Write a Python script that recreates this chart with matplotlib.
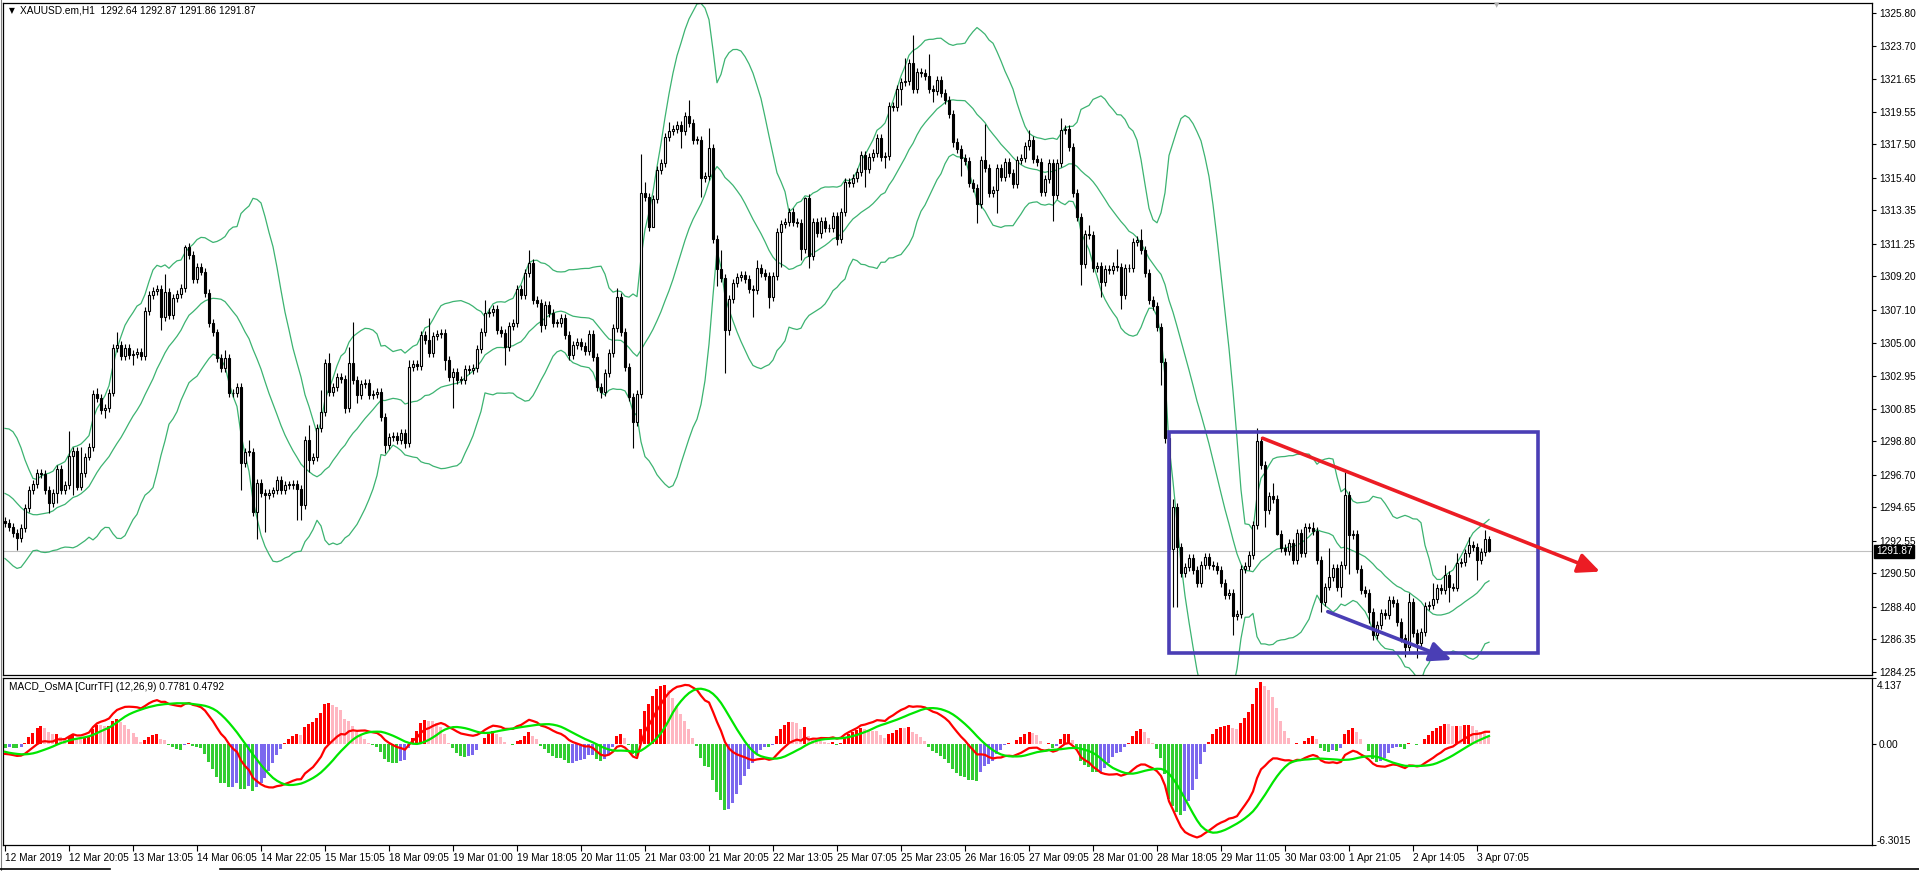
import numpy as np
import pandas as pd
import matplotlib
matplotlib.use("Agg")
import matplotlib.pyplot as plt
from matplotlib.patches import Rectangle

W, H = 1919, 871
plt.rcParams['font.family'] = ['Liberation Sans', 'DejaVu Sans']

# closes before the visible window (estimated from where bands / MACD start)
history = [1295.2, 1294.8, 1295.5, 1295.0, 1294.6, 1295.3, 1295.8, 1295.1,
           1294.7, 1295.4, 1295.0, 1294.6, 1295.2, 1295.6, 1295.1, 1294.8,
           1295.3, 1295.7, 1295.2, 1295.5, 1295.4, 1295.0, 1295.6,
           1296.0, 1297.2, 1298.3, 1298.7, 1298.9, 1298.4, 1298.1, 1297.0,
           1295.9, 1294.8, 1294.0, 1293.4, 1293.0, 1293.6, 1294.0, 1293.5,
           1293.9, 1294.3, 1293.8]

# XAUUSD H1 closes, 12 Mar 2019 -> 3 Apr 2019
closes = [
    1293.65, 1293.44, 1293.02, 1292.70, 1293.33, 1294.59, 1295.75, 1296.13, 1296.80, 1296.76,
    1295.75, 1294.95, 1295.54, 1297.05, 1295.75, 1296.06, 1297.89, 1298.20, 1295.96, 1296.84,
    1297.85, 1298.44, 1301.79, 1301.52, 1300.79, 1300.89, 1301.88, 1304.67, 1304.90, 1304.19,
    1304.67, 1304.25, 1304.31, 1304.46, 1304.19, 1307.02, 1308.03, 1308.30, 1308.38, 1306.66,
    1308.20, 1306.77, 1307.82, 1308.09, 1308.45, 1311.03, 1310.55, 1309.03, 1309.77, 1309.50,
    1308.13, 1306.24, 1305.66, 1304.04, 1303.41, 1304.04, 1301.84, 1301.84, 1302.21, 1297.43,
    1298.16, 1298.16, 1294.38, 1296.17, 1295.54, 1295.43, 1295.54, 1295.71, 1296.38, 1295.75,
    1296.06, 1296.06, 1296.13, 1295.79, 1294.79, 1298.89, 1297.63, 1297.84, 1299.62, 1300.67,
    1303.72, 1301.93, 1302.25, 1302.88, 1302.75, 1300.88, 1303.72, 1302.67, 1301.72, 1302.42,
    1302.46, 1301.72, 1301.76, 1301.91, 1300.36, 1298.57, 1299.10, 1299.14, 1298.89, 1299.31,
    1298.68, 1303.46, 1303.67, 1303.55, 1305.50, 1305.19, 1304.39, 1305.44, 1305.56, 1305.65,
    1303.93, 1302.88, 1303.19, 1302.67, 1302.67, 1303.34, 1303.30, 1303.40, 1304.60, 1305.71,
    1306.86, 1306.97, 1307.14, 1305.82, 1305.65, 1304.77, 1306.07, 1306.28, 1308.38, 1308.00,
    1309.43, 1310.01, 1307.70, 1307.54, 1306.13, 1307.39, 1306.86, 1306.28, 1306.28, 1306.55,
    1305.48, 1304.24, 1304.87, 1305.08, 1304.81, 1304.51, 1305.56, 1304.09, 1302.25, 1301.93,
    1303.09, 1304.35, 1305.92, 1307.91, 1305.71, 1303.51, 1301.62, 1300.00, 1301.80, 1314.43,
    1314.22, 1312.33, 1314.05, 1315.89, 1316.36, 1317.99, 1318.35, 1318.46, 1318.73, 1318.37,
    1319.30, 1318.83, 1317.78, 1317.78, 1315.37, 1315.52, 1317.26, 1311.53, 1309.64, 1309.07,
    1305.82, 1307.75, 1308.80, 1309.18, 1309.26, 1309.01, 1308.38, 1308.34, 1309.70, 1309.39,
    1309.22, 1307.92, 1309.22, 1312.01, 1312.49, 1312.64, 1313.27, 1312.64, 1312.58, 1310.90,
    1314.11, 1310.48, 1312.64, 1311.95, 1312.70, 1312.22, 1312.26, 1313.00, 1311.53, 1313.27,
    1315.16, 1315.05, 1315.37, 1315.79, 1316.84, 1315.94, 1316.73, 1316.99, 1317.93, 1316.73,
    1316.78, 1319.92, 1319.88, 1320.97, 1321.46, 1321.50, 1322.61, 1320.97, 1322.09, 1322.02,
    1321.81, 1321.00, 1320.89, 1321.56, 1320.72, 1320.30, 1319.42, 1317.68, 1317.19, 1316.63,
    1316.48, 1315.10, 1314.74, 1313.75, 1316.52, 1316.00, 1314.42, 1314.63, 1316.00, 1315.47,
    1316.42, 1315.68, 1315.01, 1316.52, 1316.63, 1317.41, 1317.78, 1316.57, 1316.42, 1314.53,
    1315.31, 1316.36, 1314.32, 1316.36, 1318.41, 1318.46, 1317.36, 1314.47, 1312.96, 1309.97,
    1311.86, 1311.80, 1309.70, 1309.85, 1308.86, 1309.64, 1309.60, 1309.85, 1309.78, 1308.02,
    1309.70, 1309.75, 1311.38, 1311.49, 1310.86, 1309.43, 1307.71, 1307.33, 1306.03, 1303.80,
    1299.00, 1292.00, 1294.70, 1292.18, 1290.54, 1290.92, 1291.44, 1290.71, 1289.87, 1291.03,
    1291.51, 1291.03, 1290.96, 1290.71, 1289.87, 1289.14, 1289.28, 1287.81, 1287.94, 1290.75,
    1290.96, 1291.66, 1293.54, 1298.85, 1297.30, 1294.47, 1295.35, 1295.15, 1293.00, 1292.07,
    1291.90, 1292.39, 1291.34, 1293.02, 1291.76, 1293.44, 1293.33, 1293.18, 1291.34, 1288.71,
    1289.66, 1290.29, 1290.81, 1289.66, 1291.02, 1295.43, 1292.91, 1293.00, 1290.75, 1289.45,
    1289.28, 1288.08, 1286.61, 1287.24, 1287.98, 1287.87, 1288.82, 1288.61, 1287.45, 1286.40,
    1285.88, 1288.71, 1286.72, 1286.09, 1286.82, 1288.44, 1288.50, 1288.86, 1289.55, 1289.45,
    1290.39, 1289.66, 1289.60, 1291.13, 1291.23, 1291.76, 1292.28, 1292.18, 1291.34, 1291.86,
    1292.64, 1291.87,
]

# notable wick extremes (bar index -> price)
high_marks = {
    16: 1299.48, 19: 1298.48, 23: 1302.15, 28: 1305.71, 40: 1309.33, 45: 1311.17,
    55: 1304.56, 61: 1298.90, 76: 1299.83, 79: 1302.04, 81: 1304.35, 86: 1304.77,
    87: 1306.34, 101: 1303.93, 106: 1306.55, 120: 1307.70, 131: 1310.85, 153: 1308.44,
    159: 1316.90, 160: 1315.16, 166: 1318.94, 171: 1320.30, 176: 1318.52, 179: 1310.86,
    188: 1310.23, 200: 1314.22, 225: 1322.93, 227: 1324.40, 231: 1323.20, 245: 1318.79,
    256: 1318.41, 264: 1319.15, 271: 1312.43, 278: 1310.90, 284: 1312.16, 292: 1295.20,
    313: 1299.63, 317: 1296.20, 327: 1293.75, 331: 1292.07, 335: 1296.90, 346: 1289.07,
    351: 1289.24, 357: 1289.87, 360: 1291.02, 363: 1291.76, 366: 1292.81, 370: 1293.23,
    371: 1292.87,
}
low_marks = {
    3: 1291.97, 11: 1294.28, 13: 1294.91, 17: 1295.43, 25: 1300.26, 32: 1303.62,
    39: 1305.82, 59: 1295.74, 63: 1292.64, 65: 1293.12, 73: 1293.85, 74: 1293.85,
    76: 1296.90, 85: 1300.57, 88: 1301.20, 95: 1298.05, 100: 1298.36, 110: 1303.30,
    112: 1300.88, 125: 1303.61, 134: 1305.71, 141: 1303.93, 149: 1301.51, 157: 1298.40,
    162: 1312.33, 169: 1317.26, 174: 1314.22, 178: 1308.59, 180: 1303.09, 181: 1305.50,
    187: 1306.66, 191: 1307.18, 194: 1309.81, 199: 1310.23, 201: 1309.70, 204: 1311.59,
    208: 1311.17, 215: 1314.85, 220: 1316.00, 224: 1319.99, 227: 1320.72, 232: 1320.20,
    237: 1317.36, 239: 1315.52, 243: 1312.58, 248: 1313.17, 262: 1312.70, 269: 1308.65,
    274: 1307.92, 279: 1307.12, 289: 1302.36, 290: 1298.68, 291: 1290.80, 292: 1288.40,
    293: 1288.40, 307: 1286.60, 315: 1293.44, 318: 1292.90, 329: 1288.08, 331: 1289.45,
    334: 1289.03, 336: 1290.45, 341: 1287.35, 342: 1286.30, 350: 1285.21, 353: 1285.15,
    361: 1288.71, 368: 1290.08, 371: 1291.86,
}

price_ticks = [1325.80, 1323.70, 1321.65, 1319.55, 1317.50, 1315.40, 1313.35,
               1311.25, 1309.20, 1307.10, 1305.00, 1302.95, 1300.85, 1298.80,
               1296.70, 1294.65, 1292.55, 1290.50, 1288.40, 1286.35, 1284.25]
date_labels = ["12 Mar 2019", "12 Mar 20:05", "13 Mar 13:05", "14 Mar 06:05",
               "14 Mar 22:05", "15 Mar 15:05", "18 Mar 09:05", "19 Mar 01:00",
               "19 Mar 18:05", "20 Mar 11:05", "21 Mar 03:00", "21 Mar 20:05",
               "22 Mar 13:05", "25 Mar 07:05", "25 Mar 23:05", "26 Mar 16:05",
               "27 Mar 09:05", "28 Mar 01:00", "28 Mar 18:05", "29 Mar 11:05",
               "30 Mar 03:00", "1 Apr 21:05", "2 Apr 14:05", "3 Apr 07:05"]
last_price = 1291.87

# hand-drawn objects: (bar, price)
box_corners = [(291.0, 1285.50), (383.25, 1299.41)]
red_arrow = [(314.4, 1299.00), (398.75, 1290.60)]
blue_arrow = [(330.7, 1288.08), (361.7, 1285.04)]

# ---- indicators ----
allc = pd.Series(history + closes)
n0 = len(history)
mid = allc.rolling(20).mean()
sd = allc.rolling(20).std(ddof=0)
upper = (mid + 2 * sd).values[n0:]
lower = (mid - 2 * sd).values[n0:]
mid = mid.values[n0:]
ema12 = allc.ewm(span=12, adjust=False).mean()
ema26 = allc.ewm(span=26, adjust=False).mean()
macd = ema12 - ema26
signal = macd.rolling(9).mean()
osma = (macd - signal).values[n0:] * 2.0
macd = macd.values[n0:]
signal = signal.values[n0:]

c = np.array(closes)
o = np.r_[history[-1], c[:-1]]
x = np.arange(len(c))
hi = np.maximum(o, c) + 0.25
lo = np.minimum(o, c) - 0.25
for i, v in high_marks.items():
    hi[i] = max(v, o[i], c[i])
for i, v in low_marks.items():
    lo[i] = min(v, o[i], c[i])


def px_to_fig(left, top, width, height):
    return [left / W, 1 - (top + height) / H, width / W, height / H]


fig = plt.figure(figsize=(W / 100, H / 100), dpi=100)
ax = fig.add_axes(px_to_fig(3, 3, 1869, 672))
ax2 = fig.add_axes(px_to_fig(3, 678, 1869, 167))

xlim = (-0.5, 466.75)

# ---- price panel ----
ax.axhline(last_price, color='#C0C0C0', lw=0.8, zorder=1)
ax.plot(x, upper, color='#3CB371', lw=0.9, zorder=2)
ax.plot(x, mid, color='#3CB371', lw=0.9, zorder=2)
ax.plot(x, lower, color='#3CB371', lw=0.9, zorder=2)
ax.vlines(x, lo, hi, color='black', lw=0.8, zorder=3)
up = c >= o
body = np.maximum(np.abs(c - o), 0.04)
ax.bar(x[up], body[up], bottom=o[up], width=0.72, color='white',
       edgecolor='black', lw=0.8, zorder=4)
ax.bar(x[~up], body[~up], bottom=c[~up], width=0.72, color='black',
       edgecolor='black', lw=0.8, zorder=4)

(bx0, by0), (bx1, by1) = box_corners
ax.add_patch(Rectangle((bx0, by0), bx1 - bx0, by1 - by0, fill=False,
                       ec='#4A3EB5', lw=2.6, zorder=6))
for (p0, p1), col in [(red_arrow, '#EC1C24'), (blue_arrow, '#4A3EB5')]:
    ax.annotate('', xy=p1, xytext=p0, zorder=7, annotation_clip=False,
                arrowprops=dict(arrowstyle='-|>,head_length=1.1,head_width=0.5',
                                color=col, lw=2.6, shrinkA=0, shrinkB=0,
                                mutation_scale=12))

ax.set_xlim(*xlim)
ax.set_ylim(1284.09, 1326.41)
ax.set_xticks([])
ax.yaxis.tick_right()
ax.set_yticks(price_ticks)
ax.set_yticklabels([f"{v:.2f}" for v in price_ticks])
ax.tick_params(axis='y', direction='out', length=3, width=0.8, pad=2,
               labelsize=7.3, colors='black')
for s in ax.spines.values():
    s.set_linewidth(0.9)

# ---- MACD panel ----
hcol = []
for i, v in enumerate(osma):
    prev = osma[i - 1] if i > 0 else v
    if v >= 0:
        hcol.append('#FF0000' if v >= prev else '#FFB6C1')
    else:
        hcol.append('#32CD32' if v <= prev else '#7B68EE')
ax2.bar(x, osma, width=0.75, color=hcol, lw=0, antialiased=False, zorder=2)
ax2.plot(x, macd, color='#FF0000', lw=1.6, zorder=3)
ax2.plot(x, signal, color='#00E600', lw=1.6, zorder=3)
ax2.set_xlim(*xlim)
ax2.set_ylim(-6.3015, 4.137)
ax2.yaxis.tick_right()
ax2.set_yticks([4.137, 0.0, -6.3015])
ax2.set_yticklabels(['', '0.00', ''])
ax2.tick_params(axis='y', direction='out', length=3, width=0.8, pad=2,
                labelsize=7.3)
ticks = np.arange(len(date_labels)) * 16
ax2.set_xticks(ticks)
ax2.set_xticklabels(date_labels, ha='left')
ax2.tick_params(axis='x', direction='out', length=4, width=0.8, pad=2,
                labelsize=7.3)
for s in ax2.spines.values():
    s.set_linewidth(0.9)

# ---- texts ----
fig.text(9 / W, 1 - 10.5 / H, '\u25BC', fontsize=5.5, va='center', family='DejaVu Sans')
fig.text(20 / W, 1 - 10.5 / H, 'XAUUSD.em,H1  1292.64 1292.87 1291.86 1291.87',
         fontsize=7.3, va='center')
fig.text(9 / W, 1 - 687 / H, 'MACD_OsMA [CurrTF] (12,26,9) 0.7781 0.4792',
         fontsize=7.3, va='center')
fig.text(1877 / W, 1 - 686 / H, '4.137', fontsize=7.3, va='center')
fig.text(1877 / W, 1 - 841 / H, '-6.3015', fontsize=7.3, va='center')
fig.text(1876 / W, 1 - 551.5 / H, f"{last_price:.2f}", fontsize=7.3, va='center',
         color='white', bbox=dict(facecolor='black', edgecolor='black', pad=1.2))
fig.text(1497 / W, 1 - 5 / H, '\u25BC', fontsize=5, va='center', ha='center',
         color='#B0B0B0', family='DejaVu Sans')

# window frame bits
fig.add_artist(plt.Line2D([1 / W, 1 / W], [0, 1], color='#808080', lw=0.8))
fig.add_artist(plt.Line2D([0, 110 / W], [1 - 869 / H, 1 - 869 / H], color='black', lw=1.2))
fig.add_artist(plt.Line2D([220 / W, 1], [1 - 869 / H, 1 - 869 / H], color='black', lw=1.2))

fig.savefig('out.png', dpi=100, facecolor='white')
